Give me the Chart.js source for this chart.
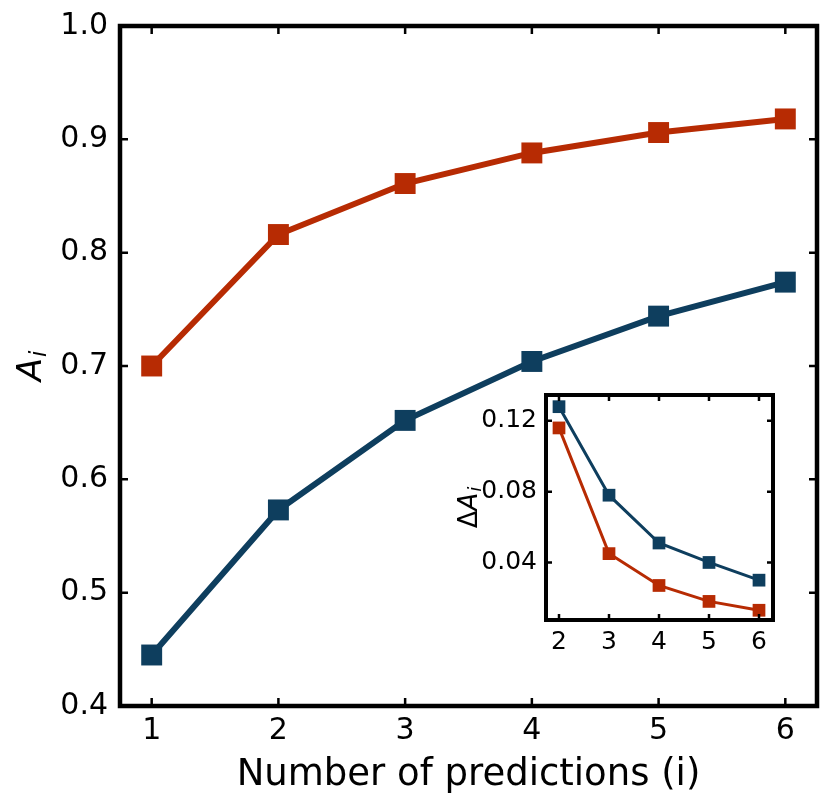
<!DOCTYPE html>
<html>
<head>
<meta charset="utf-8">
<script src="https://cdn.jsdelivr.net/npm/chart.js@4.4.1/dist/chart.umd.min.js"></script>
<style>
html,body{margin:0;padding:0;background:#fff;}
#wrap{position:relative;width:833px;height:807px;}
#main{position:absolute;left:0;top:0;}
#inset{position:absolute;left:430px;top:380px;}
</style>
</head>
<body>
<div id="wrap">
<canvas id="main" width="833" height="807"></canvas>
<canvas id="inset" width="370" height="290"></canvas>
</div>
<script>
// ---- data ----
const predictions = [1, 2, 3, 4, 5, 6];
const redA  = [0.700, 0.816, 0.861, 0.888, 0.906, 0.918];
const blueA = [0.445, 0.573, 0.652, 0.704, 0.744, 0.774];

const insetPredictions = [2, 3, 4, 5, 6];
const redDelta  = [0.116, 0.045, 0.027, 0.018, 0.013];
const blueDelta = [0.128, 0.078, 0.051, 0.040, 0.030];

const mainXTicks = [1, 2, 3, 4, 5, 6];
const mainYTicks = [0.4, 0.5, 0.6, 0.7, 0.8, 0.9, 1.0];
const insetXTicks = [2, 3, 4, 5, 6];
const insetYTicks = [0.04, 0.08, 0.12];

const xTitle = 'Number of predictions (i)';

const RED = '#B72B03';
const BLUE = '#0E3E5E';
const FONT = "'DejaVu Sans', sans-serif";

function pts(xs, ys) { return xs.map((x, i) => ({ x: x, y: ys[i] })); }

function noPad(s) { s.paddingTop = 0; s.paddingBottom = 0; s.paddingLeft = 0; s.paddingRight = 0; }

function framePlugin(lw, tickLen, tickW) {
  return {
    id: 'frame',
    afterDatasetsDraw(chart) {
      const { ctx, chartArea: a, scales } = chart;
      ctx.save();
      ctx.strokeStyle = '#000';
      ctx.lineWidth = tickW;
      ctx.beginPath();
      scales.x.ticks.forEach(t => {
        const px = scales.x.getPixelForValue(t.value);
        ctx.moveTo(px, a.bottom); ctx.lineTo(px, a.bottom - tickLen);
        ctx.moveTo(px, a.top); ctx.lineTo(px, a.top + tickLen);
      });
      scales.y.ticks.forEach(t => {
        const py = scales.y.getPixelForValue(t.value);
        ctx.moveTo(a.left, py); ctx.lineTo(a.left + tickLen, py);
        ctx.moveTo(a.right, py); ctx.lineTo(a.right - tickLen, py);
      });
      ctx.stroke();
      ctx.lineWidth = lw;
      ctx.lineJoin = 'miter';
      ctx.strokeRect(a.left, a.top, a.right - a.left, a.bottom - a.top);
      ctx.restore();
    }
  };
}

function drawSubLabel(ctx, cx, cy, parts) {
  ctx.save();
  ctx.translate(cx, cy);
  ctx.rotate(-Math.PI / 2);
  ctx.fillStyle = '#000';
  ctx.textBaseline = 'alphabetic';
  ctx.textAlign = 'left';
  let total = 0;
  parts.forEach(p => { ctx.font = p.font; total += ctx.measureText(p.text).width + (p.dx || 0); });
  let x = -total / 2;
  parts.forEach(p => {
    ctx.font = p.font;
    x += (p.dx || 0);
    ctx.fillText(p.text, x, p.dy || 0);
    x += ctx.measureText(p.text).width;
  });
  ctx.restore();
}

const mainLabels = {
  id: 'mainLabels',
  afterDraw(chart) {
    const { ctx, chartArea: a } = chart;
    ctx.save();
    ctx.fillStyle = '#000';
    ctx.font = "37px " + FONT;
    ctx.textAlign = 'center';
    ctx.textBaseline = 'alphabetic';
    ctx.fillText(xTitle, (a.left + a.right) / 2, 785);
    ctx.restore();
    drawSubLabel(ctx, 41, (a.top + a.bottom) / 2, [
      { text: 'A', font: "italic 34px " + FONT },
      { text: 'i', font: "italic 23px " + FONT, dy: 5, dx: 1 }
    ]);
  }
};

const insetLabels = {
  id: 'insetLabels',
  afterDraw(chart) {
    const { ctx, chartArea: a } = chart;
    drawSubLabel(ctx, 477 - 430, (a.top + a.bottom) / 2, [
      { text: 'Δ', font: "26px " + FONT },
      { text: 'A', font: "italic 26px " + FONT },
      { text: 'i', font: "italic 18px " + FONT, dy: 4, dx: 1 }
    ]);
  }
};

Chart.defaults.font.family = FONT;
Chart.defaults.color = '#000';

new Chart(document.getElementById('main'), {
  type: 'line',
  data: {
    datasets: [
      { data: pts(predictions, blueA), borderColor: BLUE, backgroundColor: BLUE, borderWidth: 6,
        pointStyle: 'rect', pointRadius: 14.8, pointBorderWidth: 0, pointHoverRadius: 14.8 },
      { data: pts(predictions, redA), borderColor: RED, backgroundColor: RED, borderWidth: 6,
        pointStyle: 'rect', pointRadius: 14.8, pointBorderWidth: 0, pointHoverRadius: 14.8 }
    ]
  },
  options: {
    responsive: false, animation: false, devicePixelRatio: 1,
    layout: { padding: { left: 0, top: 26, right: 16, bottom: 0 } },
    plugins: { legend: { display: false }, tooltip: { enabled: false } },
    elements: { line: { tension: 0 } },
    scales: {
      x: {
        type: 'linear', min: 0.75, max: 6.25,
        afterBuildTicks: s => { s.ticks = mainXTicks.map(v => ({ value: v })); },
        afterFit: s => { s.height = 101; noPad(s); },
        grid: { display: false, drawTicks: false },
        border: { display: false },
        ticks: { font: { size: 30 }, padding: 7, callback: v => String(v), maxRotation: 0 }
      },
      y: {
        min: 0.4, max: 1.0,
        afterBuildTicks: s => { s.ticks = mainYTicks.map(v => ({ value: v })); },
        afterFit: s => { s.width = 120; noPad(s); },
        grid: { display: false, drawTicks: false },
        border: { display: false },
        ticks: { font: { size: 30 }, padding: 12, callback: v => Number(v).toFixed(1) }
      }
    }
  },
  plugins: [framePlugin(4.5, 8, 2.5), mainLabels]
});

new Chart(document.getElementById('inset'), {
  type: 'line',
  data: {
    datasets: [
      { data: pts(insetPredictions, redDelta), borderColor: RED, backgroundColor: RED, borderWidth: 3,
        pointStyle: 'rect', pointRadius: 9, pointBorderWidth: 0, pointHoverRadius: 9 },
      { data: pts(insetPredictions, blueDelta), borderColor: BLUE, backgroundColor: BLUE, borderWidth: 3,
        pointStyle: 'rect', pointRadius: 9, pointBorderWidth: 0, pointHoverRadius: 9 }
    ]
  },
  options: {
    responsive: false, animation: false, devicePixelRatio: 1,
    layout: { padding: { left: 0, top: 15, right: 27, bottom: 0 } },
    plugins: { legend: { display: false }, tooltip: { enabled: false } },
    elements: { line: { tension: 0 } },
    scales: {
      x: {
        type: 'linear', min: 1.74, max: 6.28,
        afterBuildTicks: s => { s.ticks = insetXTicks.map(v => ({ value: v })); },
        afterFit: s => { s.height = 50; noPad(s); },
        grid: { display: false, drawTicks: false },
        border: { display: false },
        ticks: { font: { size: 25 }, padding: 7, callback: v => String(v), maxRotation: 0 }
      },
      y: {
        min: 0.0075, max: 0.1346,
        afterBuildTicks: s => { s.ticks = insetYTicks.map(v => ({ value: v })); },
        afterFit: s => { s.width = 116; noPad(s); },
        grid: { display: false, drawTicks: false },
        border: { display: false },
        ticks: { font: { size: 25 }, padding: 9, callback: v => Number(v).toFixed(2) }
      }
    }
  },
  plugins: [framePlugin(4, 6, 2.5), insetLabels]
});
</script>
</body>
</html>
